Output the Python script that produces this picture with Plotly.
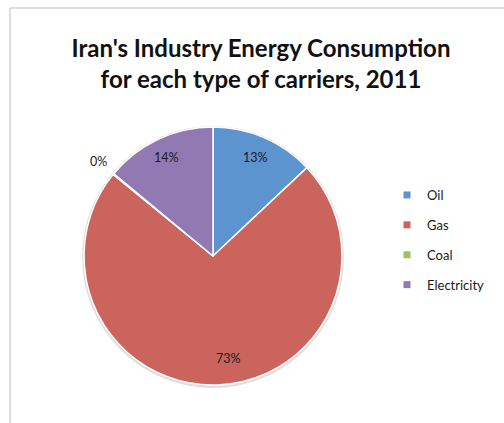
import math
import plotly.graph_objects as go

# Energy carriers and their share of industrial consumption (%)
carriers = ["Oil", "Gas", "Coal", "Electricity"]
shares = [13, 73, 0.1, 14]
colors = ["#5B94CF", "#CB645D", "#9CC264", "#9179B1"]

# label placement: radius as a fraction of the pie radius, and an angular nudge (deg)
label_radius = [0.83, 0.80, 1.15, 0.84]
label_nudge = [0, -6.5, 0, 0]

W, H = 504, 423
cx, cy, R = 213, 256, 129  # pie centre / radius in pixels

fig = go.Figure()

# soft shadow under the pie
fig.add_trace(go.Pie(
    values=[1], labels=["shadow"], marker=dict(colors=["rgba(0,0,0,0.13)"]),
    textinfo="none", hoverinfo="skip", showlegend=False, sort=False,
    domain=dict(x=[(cx - R - 2) / W, (cx + R + 2) / W],
                y=[1 - (cy + R + 3) / H, 1 - (cy - R - 1) / H]),
))

fig.add_trace(go.Pie(
    labels=carriers, values=shares, sort=False, direction="clockwise",
    rotation=0, marker=dict(colors=colors, line=dict(color="white", width=1.5)),
    textinfo="none", showlegend=False,
    domain=dict(x=[(cx - R) / W, (cx + R) / W], y=[1 - (cy + R) / H, 1 - (cy - R) / H]),
))

# percentage labels at each slice's mid-angle
total = sum(shares)
annotations = []
cum = 0
for name, v, rr, nudge in zip(carriers, shares, label_radius, label_nudge):
    mid = (cum + v / 2) / total * 2 * math.pi + math.radians(nudge)
    cum += v
    px = cx + rr * R * math.sin(mid)
    py = cy - rr * R * math.cos(mid)
    annotations.append(dict(
        x=px / W, y=1 - py / H, xref="paper", yref="paper", showarrow=False,
        xanchor="center", yanchor="middle",
        text=f"{round(v / total * 100):d}%", font=dict(size=12.5, color="#1a1a1a"),
    ))

# legend entries, one group each so the rows can be spaced out
for name, c in zip(carriers, colors):
    fig.add_trace(go.Scatter(
        x=[None], y=[None], mode="markers", name=name, legendgroup=name,
        marker=dict(symbol="square", size=7, color=c),
    ))

fig.update_layout(
    width=W, height=H, margin=dict(l=0, r=0, t=0, b=0),
    paper_bgcolor="white", plot_bgcolor="white",
    font=dict(family="Lato, Open Sans, sans-serif", color="#1a1a1a"),
    title=dict(
        text="<b>Iran's Industry Energy Consumption<br>for each type of carriers, 2011</b>",
        x=261 / W, xanchor="center", y=1 - 57 / H, yanchor="middle",
        font=dict(size=24, color="#111"),
    ),
    xaxis=dict(visible=False), yaxis=dict(visible=False),
    legend=dict(x=387 / W, xanchor="left", y=1 - 180 / H, yanchor="top",
                font=dict(size=13, color="#1a1a1a"), tracegroupgap=10,
                bgcolor="rgba(0,0,0,0)"),
    annotations=annotations,
    shapes=[
        dict(type="line", xref="paper", yref="paper", x0=10 / W, x1=10 / W,
             y0=0, y1=1 - 8 / H, line=dict(color="#BDBDBD", width=1)),
        dict(type="line", xref="paper", yref="paper", x0=10 / W, x1=1,
             y0=1 - 8 / H, y1=1 - 8 / H, line=dict(color="#BDBDBD", width=1)),
    ],
)

fig.write_html("out.html")
